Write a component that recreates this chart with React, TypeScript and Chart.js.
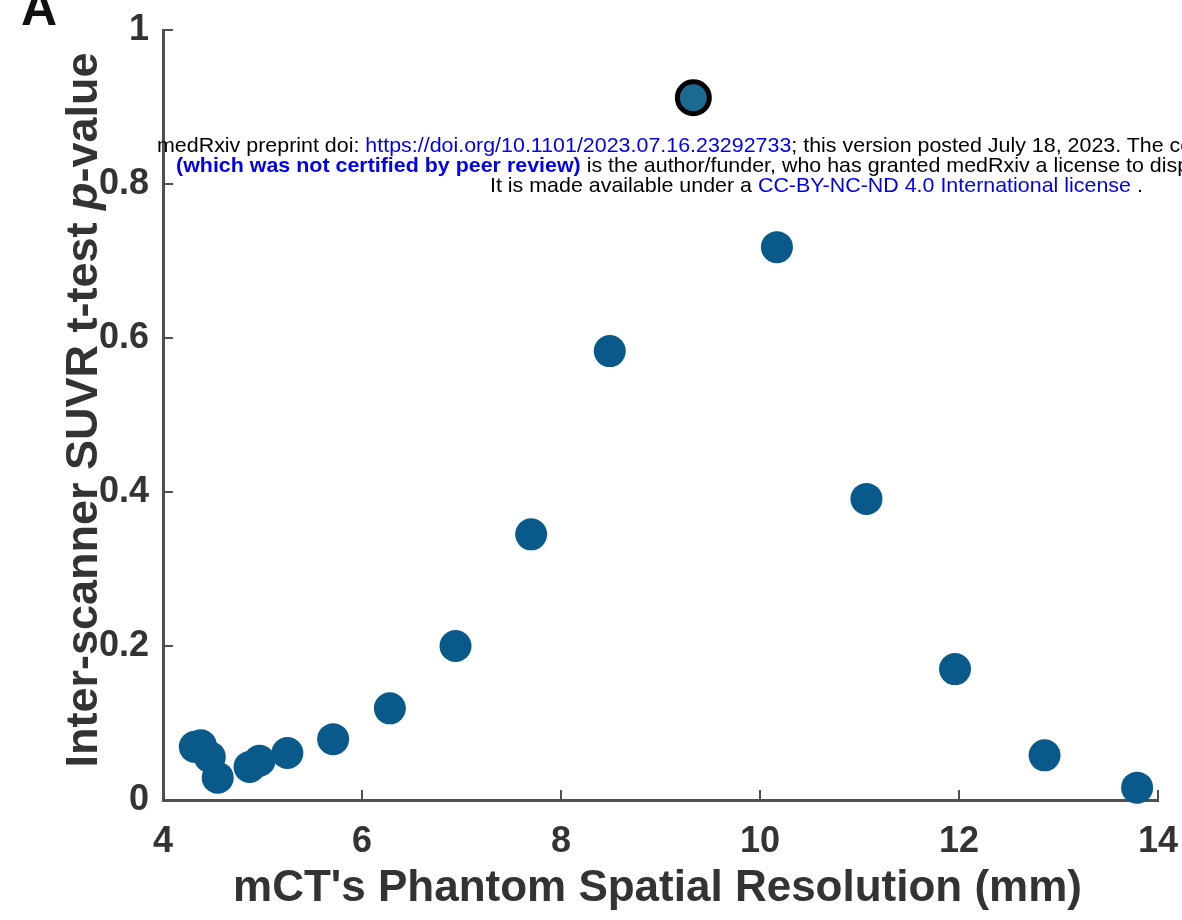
import React, { useEffect, useRef } from "react";
import { Chart, registerables } from "chart.js";

Chart.register(...registerables);

const xValues = [4.32, 4.38, 4.47, 4.55, 4.87, 4.97, 5.25, 5.71, 6.28, 6.94, 7.7, 8.49, 10.17, 11.07, 11.96, 12.86, 13.79];
const yValues = [0.069, 0.071, 0.056, 0.029, 0.043, 0.051, 0.061, 0.079, 0.119, 0.2, 0.345, 0.583, 0.718, 0.391, 0.17, 0.058, 0.016];
const highlightX = [9.33];
const highlightY = [0.912];
const xTicks = [4, 6, 8, 10, 12, 14];
const yTicks = [0, 0.2, 0.4, 0.6, 0.8, 1];
const xTitle = "mCT's Phantom Spatial Resolution (mm)";
const yTitleParts = ["Inter-scanner SUVR t-test ", "p", "-value"];
const panelLabel = "A";

const AXIS_COLOR = "#505050";
const TEXT_COLOR = "#333333";
const FONT = "'Liberation Sans', Arial, sans-serif";

const decorPlugin = {
  id: "decor",
  afterDraw(chart: any) {
    const ctx = chart.ctx;
    const xs = chart.scales.x;
    const ys = chart.scales.y;
    const area = chart.chartArea;
    ctx.save();
    // inward ticks
    ctx.strokeStyle = AXIS_COLOR;
    ctx.lineWidth = 2;
    xTicks.forEach((v) => {
      const px = xs.getPixelForValue(v);
      ctx.beginPath();
      ctx.moveTo(px, area.bottom);
      ctx.lineTo(px, area.bottom - 10);
      ctx.stroke();
    });
    yTicks.forEach((v) => {
      const py = ys.getPixelForValue(v);
      ctx.beginPath();
      ctx.moveTo(area.left, py);
      ctx.lineTo(area.left + 10, py);
      ctx.stroke();
    });
    ctx.fillStyle = TEXT_COLOR;
    // x title
    ctx.font = `bold 44px ${FONT}`;
    ctx.textAlign = "center";
    ctx.textBaseline = "alphabetic";
    ctx.fillText(xTitle, (area.left + area.right) / 2 - 3, 901);
    // y title (mixed italic)
    const fonts = [`bold 45px ${FONT}`, `italic bold 45px ${FONT}`, `bold 45px ${FONT}`];
    const widths = yTitleParts.map((t, i) => {
      ctx.font = fonts[i];
      return ctx.measureText(t).width;
    });
    const total = widths.reduce((a, b) => a + b, 0);
    ctx.translate(97, 410);
    ctx.rotate(-Math.PI / 2);
    ctx.textAlign = "left";
    let cx = -total / 2;
    yTitleParts.forEach((t, i) => {
      ctx.font = fonts[i];
      ctx.fillText(t, cx, 0);
      cx += widths[i];
    });
    ctx.restore();
    ctx.save();
    ctx.fillStyle = "#111111";
    ctx.font = `bold 50px ${FONT}`;
    ctx.textAlign = "left";
    ctx.textBaseline = "alphabetic";
    ctx.fillText(panelLabel, 21, 25);
    ctx.restore();
  },
};

export default function App() {
  const ref = useRef<HTMLCanvasElement>(null);
  useEffect(() => {
    if (!ref.current) return;
    const chart = new Chart(ref.current, {
      type: "scatter",
      data: {
        datasets: [
          {
            data: xValues.map((x, i) => ({ x, y: yValues[i] })),
            backgroundColor: "#09598a",
            borderColor: "#09598a",
            borderWidth: 0,
            pointRadius: 16,
            clip: false as any,
          },
          {
            data: highlightX.map((x, i) => ({ x, y: highlightY[i] })),
            backgroundColor: "#1a6a92",
            borderColor: "#000000",
            borderWidth: 5,
            pointRadius: 16,
            clip: false as any,
          },
        ],
      },
      options: {
        animation: false,
        responsive: true,
        maintainAspectRatio: false,
        layout: { autoPadding: false, padding: { left: 0, right: 24, top: 30, bottom: 0 } },
        plugins: { legend: { display: false }, tooltip: { enabled: false } },
        scales: {
          x: {
            type: "linear",
            min: 4,
            max: 14,
            afterBuildTicks: (s: any) => {
              s.ticks = xTicks.map((v) => ({ value: v }));
            },
            afterFit: (s: any) => {
              s.height = 120;
              s.paddingLeft = 0;
              s.paddingRight = 0;
            },
            grid: { drawOnChartArea: false, drawTicks: false },
            border: { color: AXIS_COLOR, width: 3 },
            ticks: {
              padding: 20,
              color: TEXT_COLOR,
              font: { family: FONT, size: 36, weight: "bold" },
              callback: (v: any) => String(v),
              maxRotation: 0,
            },
          },
          y: {
            type: "linear",
            min: 0,
            max: 1,
            afterBuildTicks: (s: any) => {
              s.ticks = yTicks.map((v) => ({ value: v }));
            },
            afterFit: (s: any) => {
              s.width = 163;
              s.paddingTop = 0;
              s.paddingBottom = 0;
            },
            grid: { drawOnChartArea: false, drawTicks: false },
            border: { color: AXIS_COLOR, width: 3 },
            ticks: {
              padding: 14,
              color: TEXT_COLOR,
              font: { family: FONT, size: 36, weight: "bold" },
              callback: (v: any) => String(Number(Number(v).toFixed(1))),
            },
          },
        },
      },
      plugins: [decorPlugin],
    });
    return () => chart.destroy();
  }, []);

  const wm: React.CSSProperties = {
    position: "absolute",
    whiteSpace: "nowrap",
    fontFamily: FONT,
    fontSize: "21px",
    lineHeight: "20px",
    color: "#000",
    transform: "scaleX(1.02)",
    transformOrigin: "left top",
  };
  const blue: React.CSSProperties = { color: "#0000ee" };

  return (
    <div style={{ position: "fixed", left: 0, top: 0, width: 1182, height: 920, overflow: "hidden", background: "#fff" }}>
      <canvas ref={ref} />
      <div style={{ ...wm, left: 157, top: 135 }}>
        medRxiv preprint doi: <span style={blue}>https://doi.org/10.1101/2023.07.16.23292733</span>; this version posted July 18, 2023. The copyright holder for this preprint
      </div>
      <div style={{ ...wm, left: 176, top: 155 }}>
        <span style={{ ...blue, fontWeight: "bold" }}>(which was not certified by peer review)</span> is the author/funder, who has granted medRxiv a license to display the preprint in perpetuity.
      </div>
      <div style={{ ...wm, left: 490, top: 175 }}>
        It is made available under a <span style={blue}>CC-BY-NC-ND 4.0 International license</span> .
      </div>
    </div>
  );
}
